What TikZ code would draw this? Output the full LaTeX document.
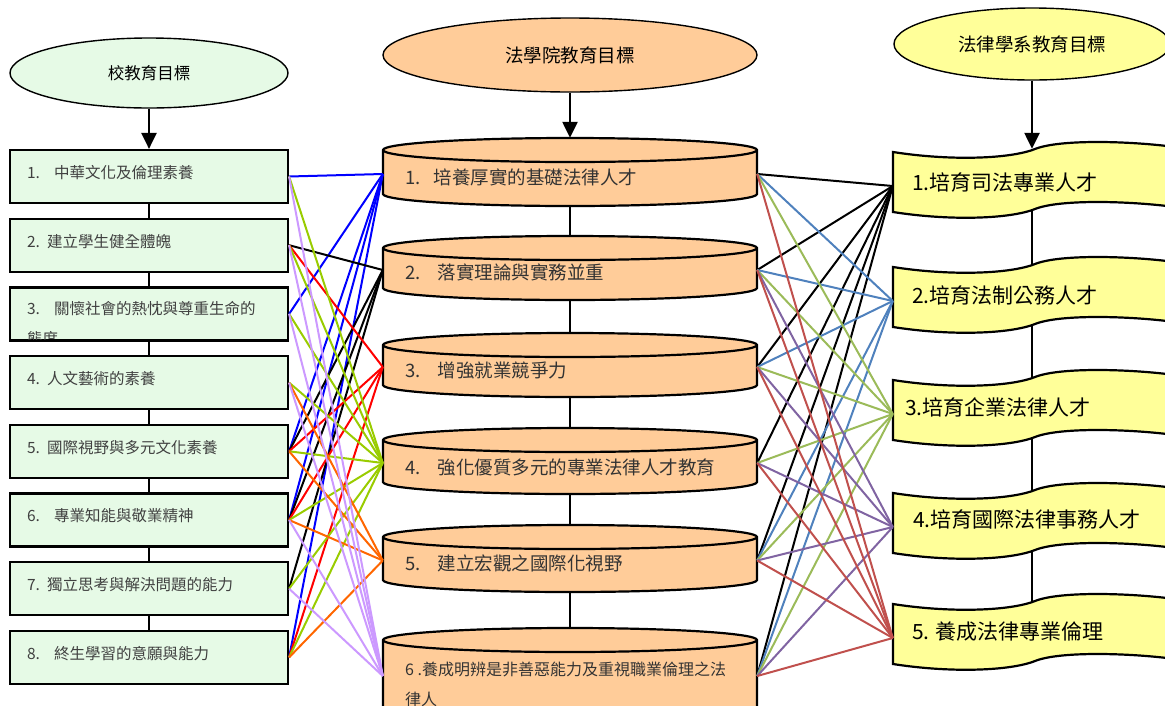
\documentclass[tikz,border=0pt]{standalone}
\usepackage{fontspec}
\setmainfont{Noto Sans CJK TC}
\usetikzlibrary{arrows.meta,shapes.geometric}
\definecolor{mint}{HTML}{E6FAE6}
\definecolor{peach}{HTML}{FFCC99}
\definecolor{lemon}{HTML}{FFFF99}
\definecolor{lblue}{HTML}{0000FF}
\definecolor{lred}{HTML}{FF0000}
\definecolor{lgreen}{HTML}{99CC00}
\definecolor{lorange}{HTML}{FF6600}
\definecolor{llilac}{HTML}{CC99FF}
\definecolor{rblue}{HTML}{4F81BD}
\definecolor{rgreen}{HTML}{9BBB59}
\definecolor{rpurple}{HTML}{8064A2}
\definecolor{rred}{HTML}{C0504D}
\newcommand{\fsz}[1]{\fontsize{#1}{#1}\selectfont}

\begin{document}
\begin{tikzpicture}[x=1pt,y=-1pt,
  goal/.style={ellipse,draw,line width=1.4pt,inner sep=0pt},
  lbox/.style={draw,fill=mint,line width=2.2pt,minimum width=278pt,minimum height=53pt,inner sep=0pt},
  cylbody/.style={minimum width=374pt,minimum height=68pt,inner sep=0pt},
  tapebody/.style={minimum width=278pt,minimum height=60pt,inner sep=0pt},
  ltext/.style={anchor=west,inner sep=0pt,text=black!75,font=\fsz{15.5}},
  mtext/.style={anchor=west,inner sep=0pt,text=black!80,font=\fsz{18.5}},
  rtext/.style={anchor=west,inner sep=0pt,font=\fsz{21}},
  link/.style={line width=2pt},
  bigarrow/.style={line width=2.4pt,-{Triangle[width=15pt,length=16pt]}}]
\useasboundingbox (0,0) rectangle (1165,705);

\node[goal,fill=mint,minimum width=278pt,minimum height=70pt,font=\fsz{16.5}] (g1) at (149,73) {校教育目標};
\node[goal,fill=peach,minimum width=374pt,minimum height=74pt,font=\fsz{18.5}] (g2) at (570,55) {法學院教育目標};
\node[goal,fill=lemon,minimum width=276pt,minimum height=72pt,font=\fsz{18.5}] (g3) at (1032,44) {法律學系教育目標};

% school goals
\foreach \i in {1,...,8}
  \node[lbox] (s\i) at (149,{176.5+68.7*(\i-1)}) {};
\foreach \i [count=\n from 2] in {1,...,7}
  \draw[line width=2.2pt] (s\i.south) -- (s\n.north);
\node[ltext] (st1) at ([xshift=18pt,yshift=4pt]s1.west) {1.\hspace{14pt}中華文化及倫理素養};
\node[ltext] (st2) at ([xshift=18pt,yshift=4pt]s2.west) {2.\hspace{7pt}建立學生健全體魄};
\begin{scope}
  \clip ([yshift=-2.2pt]s3.north west) rectangle ([yshift=2.2pt]s3.south east);
  \node[ltext,align=left,font=\fontsize{15.5}{30}\selectfont] (st3) at ([xshift=18pt,yshift=-10pt]s3.west) {3.\hspace{14pt}關懷社會的熱忱與尊重生命的\\態度};
\end{scope}
\node[ltext] (st4) at ([xshift=18pt,yshift=4pt]s4.west) {4.\hspace{7pt}人文藝術的素養};
\node[ltext] (st5) at ([xshift=18pt,yshift=4pt]s5.west) {5.\hspace{7pt}國際視野與多元文化素養};
\node[ltext] (st6) at ([xshift=18pt,yshift=4pt]s6.west) {6.\hspace{14pt}專業知能與敬業精神};
\node[ltext] (st7) at ([xshift=18pt,yshift=4pt]s7.west) {7.\hspace{7pt}獨立思考與解決問題的能力};
\node[ltext] (st8) at ([xshift=18pt,yshift=4pt]s8.west) {8.\hspace{14pt}終生學習的意願與能力};

% college goals
\foreach \i/\ty/\h in {1/138/56,2/236/52,3/333/52,4/428/54,5/525/55,6/628/80}{
  \filldraw[fill=peach,line width=2.2pt] (383,\ty+12) -- (383,\ty+\h)
    arc[start angle=180,end angle=360,x radius=187pt,y radius=12pt] -- (757,\ty+12)
    arc[start angle=0,end angle=180,x radius=187pt,y radius=12pt] -- cycle;
  \draw[line width=2.2pt] (383,\ty+12) arc[start angle=180,end angle=360,x radius=187pt,y radius=12pt];
  \node[cylbody,minimum height=\h pt+12pt] (m\i) at (570,{\ty+(\h+12)/2}) {};
}
\foreach \i [count=\n from 2] in {1,...,5}
  \draw[line width=2.2pt] (m\i.south) -- (m\n.north);
\node[mtext] (mt1) at (405,177) {1.\hspace{13pt}培養厚實的基礎法律人才};
\node[mtext] (mt2) at (405,272) {2.\hspace{17pt}落實理論與實務並重};
\node[mtext] (mt3) at (405,370) {3.\hspace{17pt}增強就業競爭力};
\node[mtext] (mt4) at (405,467) {4.\hspace{17pt}強化優質多元的專業法律人才教育};
\node[mtext] (mt5) at (405,563) {5.\hspace{17pt}建立宏觀之國際化視野};
\node[mtext,align=left,font=\fontsize{16}{30}\selectfont] (mt6) at (405,684) {6 .養成明辨是非善惡能力及重視職業倫理之法\\律人};

% department goals
\foreach \i/\ty in {1/152,2/267,3/380,4/493,5/604}{
  \filldraw[fill=lemon,line width=2.2pt] (893,\ty) .. controls (950,\ty+9) and (1010,\ty+7) .. (1035,\ty-3)
    .. controls (1060,\ty-13) and (1130,\ty-11) .. (1175,\ty-5) -- (1175,\ty+55)
    .. controls (1130,\ty+49) and (1060,\ty+47) .. (1035,\ty+57)
    .. controls (1010,\ty+67) and (950,\ty+69) .. (893,\ty+60) -- cycle;
  \node[tapebody] (r\i) at (1032,\ty+27) {};
}
\foreach \i [count=\n from 2] in {1,...,4}
  \draw[line width=2.2pt] (r\i.south) -- (r\n.north);
\node[rtext] (rt1) at (912,182) {1.培育司法專業人才};
\node[rtext] (rt2) at (912,295) {2.培育法制公務人才};
\node[rtext] (rt3) at (905,407) {3.培育企業法律人才};
\node[rtext] (rt4) at (913,519) {4.培育國際法律事務人才};
\node[rtext] (rt5) at (912,632) {5. 養成法律專業倫理};

\draw[bigarrow] (g1.south) -- (s1.north);
\draw[bigarrow] (g2.south) -- (m1.north);
\draw[bigarrow] (g3.south) -- (r1.north);

% school -> college
\foreach \s/\m/\c in {1/1/lblue,3/1/lblue,5/1/lblue,6/1/lblue,8/1/lblue,
    2/2/black,5/2/black,6/2/black,7/2/black,
    2/3/lred,5/3/lred,6/3/lred,8/3/lred,
    1/4/lgreen,2/4/lgreen,3/4/lgreen,4/4/lgreen,5/4/lgreen,6/4/lgreen,7/4/lgreen,8/4/lgreen,
    4/5/lorange,5/5/lorange,6/5/lorange,8/5/lorange,
    1/6/llilac,2/6/llilac,3/6/llilac,4/6/llilac,6/6/llilac,7/6/llilac}
  \draw[link,\c] (s\s.east) -- ([yshift=-2pt]m\m.west);

% college -> department
\foreach \m/\r/\c in {1/1/black,2/1/black,3/1/black,4/1/black,5/1/black,6/1/black,
    1/2/rblue,2/2/rblue,3/2/rblue,5/2/rblue,6/2/rblue,
    1/3/rgreen,2/3/rgreen,3/3/rgreen,4/3/rgreen,5/3/rgreen,6/3/rgreen,
    2/4/rpurple,3/4/rpurple,4/4/rpurple,5/4/rpurple,6/4/rpurple,
    1/5/rred,2/5/rred,3/5/rred,4/5/rred,5/5/rred,6/5/rred}
  \draw[link,\c] ([yshift=-2pt]m\m.east) -- ([yshift=-7pt]r\r.west);
\end{tikzpicture}
\end{document}
